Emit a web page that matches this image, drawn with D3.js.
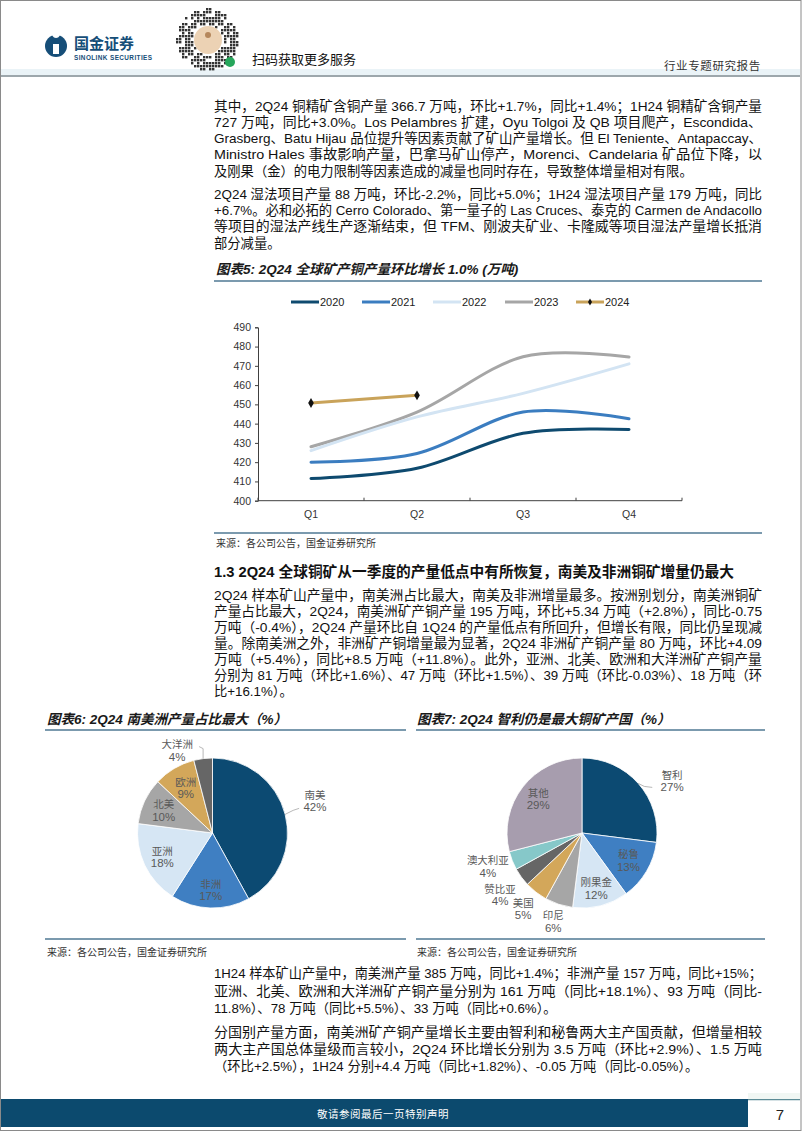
<!DOCTYPE html>
<html><head><meta charset="utf-8">
<script src="https://cdn.jsdelivr.net/npm/d3@7"></script>
<style>body{margin:0;background:#fff}svg{display:block}</style>
</head><body>
<script>
// ---------- DATA ----------
const quarters = ["Q1", "Q2", "Q3", "Q4"];
const years = ["2020", "2021", "2022", "2023", "2024"];
const v2020 = [411.5, 416.8, 435, 437];
const v2021 = [420, 424.5, 446, 442.5];
const v2022 = [426, 443.5, 455.7, 471];
const v2023 = [428, 446, 474.7, 474.6];
const v2024 = [450.7, 454.7];
const yTicks = [400, 410, 420, 430, 440, 450, 460, 470, 480, 490];

const continents = ["南美", "非洲", "亚洲", "北美", "欧洲", "大洋洲"];
const continentShare = [42, 17, 18, 10, 9, 4];
const countries = ["智利", "秘鲁", "刚果金", "印尼", "美国", "赞比亚", "澳大利亚", "其他"];
const countryShare = [27, 13, 12, 6, 5, 4, 4, 29];

const para1 = [
  "其中，2Q24 铜精矿含铜产量 366.7 万吨，环比+1.7%，同比+1.4%；1H24 铜精矿含铜产量",
  "727 万吨，同比+3.0%。Los Pelambres 扩建，Oyu Tolgoi 及 QB 项目爬产，Escondida、",
  "Grasberg、Batu Hijau 品位提升等因素贡献了矿山产量增长。但 El Teniente、Antapaccay、",
  "Ministro Hales 事故影响产量，巴拿马矿山停产，Morenci、Candelaria 矿品位下降，以",
  "及刚果（金）的电力限制等因素造成的减量也同时存在，导致整体增量相对有限。"];
const para2 = [
  "2Q24 湿法项目产量 88 万吨，环比-2.2%，同比+5.0%；1H24 湿法项目产量 179 万吨，同比",
  "+6.7%。必和必拓的 Cerro Colorado、第一量子的 Las Cruces、泰克的 Carmen de Andacollo",
  "等项目的湿法产线生产逐渐结束，但 TFM、刚波夫矿业、卡隆威等项目湿法产量增长抵消",
  "部分减量。"];
const heading = "1.3 2Q24 全球铜矿从一季度的产量低点中有所恢复，南美及非洲铜矿增量仍最大";
const para3 = [
  "2Q24 样本矿山产量中，南美洲占比最大，南美及非洲增量最多。按洲别划分，南美洲铜矿",
  "产量占比最大，2Q24，南美洲矿产铜产量 195 万吨，环比+5.34 万吨（+2.8%），同比-0.75",
  "万吨（-0.4%），2Q24 产量环比自 1Q24 的产量低点有所回升，但增长有限，同比仍呈现减",
  "量。除南美洲之外，非洲矿产铜增量最为显著，2Q24 非洲矿产铜产量 80 万吨，环比+4.09",
  "万吨（+5.4%），同比+8.5 万吨（+11.8%）。此外，亚洲、北美、欧洲和大洋洲矿产铜产量",
  "分别为 81 万吨（环比+1.6%）、47 万吨（环比+1.5%）、39 万吨（环比-0.03%）、18 万吨（环",
  "比+16.1%）。"];
const para4 = [
  "1H24 样本矿山产量中，南美洲产量 385 万吨，同比+1.4%；非洲产量 157 万吨，同比+15%；",
  "亚洲、北美、欧洲和大洋洲矿产铜产量分别为 161 万吨（同比+18.1%）、93 万吨（同比-",
  "11.8%）、78 万吨（同比+5.5%）、33 万吨（同比+0.6%）。"];
const para5 = [
  "分国别产量方面，南美洲矿产铜产量增长主要由智利和秘鲁两大主产国贡献，但增量相较",
  "两大主产国总体量级而言较小，2Q24 环比增长分别为 3.5 万吨（环比+2.9%）、1.5 万吨",
  "（环比+2.5%），1H24 分别+4.4 万吨（同比+1.82%）、-0.05 万吨（同比-0.05%）。"];

// ---------- SETUP ----------
const W = 802, H = 1133;
const CJK = "'Liberation Sans','Noto Sans CJK SC',sans-serif";
const LAT = "'Liberation Sans',Arial,sans-serif";
const svg = d3.select("body").append("svg").attr("width", W).attr("height", H);
svg.append("rect").attr("x", 0).attr("y", 0).attr("width", W).attr("height", H).attr("fill", "#fff");

// page frame
svg.append("rect").attr("x", 0.5).attr("y", 0.5).attr("width", W - 1.5).attr("height", H - 3)
  .attr("fill", "none").attr("stroke", "#8a8a8a").attr("stroke-width", 1);

// ---------- HEADER ----------
const hdr = svg.append("g");
hdr.append("rect").attr("x", 1).attr("y", 69).attr("width", W - 3).attr("height", 6).attr("fill", "#eaf3f7");
hdr.append("line").attr("x1", 1).attr("x2", W - 2).attr("y1", 76).attr("y2", 76).attr("stroke", "#7d8a90").attr("stroke-width", 1.5);
// logo
hdr.append("circle").attr("cx", 56).attr("cy", 46).attr("r", 11).attr("fill", "#164e78");
hdr.append("path").attr("d", "M56 38 a4 4 0 1 1 0.1 0 Z M53 44 h6 v10 h-6 Z").attr("fill", "#fff");
hdr.append("text").attr("x", 74).attr("y", 49).attr("font-family", CJK).attr("font-weight", 700)
  .attr("font-size", 15).attr("fill", "#164e78").text("国金证券");
hdr.append("text").attr("x", 74).attr("y", 59.5).attr("font-family", LAT).attr("font-weight", 700)
  .attr("font-size", 6.4).attr("fill", "#164e78").attr("textLength", 78).text("SINOLINK SECURITIES");
// QR-like decoration
const qr = hdr.append("g");
const qcx = 208, qcy = 40;
for (let i = 0; i < 22; i++) for (let j = 0; j < 22; j++) {
  const x = 176 + i * 3, y = 8 + j * 3;
  const d = Math.hypot(x + 1.5 - qcx, y + 1.5 - qcy);
  if (d > 31 || d < 15) continue;
  if (((i * 7 + j * 13 + (i * j) % 5) % 3) === 0) continue;
  qr.append("rect").attr("x", x).attr("y", y).attr("width", 2.4).attr("height", 2.4).attr("fill", "#333");
}
qr.append("circle").attr("cx", qcx).attr("cy", qcy).attr("r", 14).attr("fill", "#ecd2b4");
qr.append("circle").attr("cx", qcx).attr("cy", qcy - 5).attr("r", 3).attr("fill", "#b5875c");
qr.append("circle").attr("cx", 230).attr("cy", 62).attr("r", 5).attr("fill", "#26a65b");
hdr.append("text").attr("x", 252).attr("y", 64).attr("font-family", CJK).attr("font-size", 13)
  .attr("fill", "#111").text("扫码获取更多服务");
hdr.append("text").attr("x", 664).attr("y", 70).attr("font-family", CJK).attr("font-size", 11.5)
  .attr("fill", "#333").attr("letter-spacing", 0.6).text("行业专题研究报告");

// ---------- PARAGRAPHS ----------
const TX0 = 214, TX1 = 762, FS = 13.3;
function para(lines, y0, lh) {
  const g = svg.append("g").attr("font-family", CJK).attr("font-size", FS).attr("fill", "#111");
  lines.forEach((ln, i) => {
    const t = g.append("text").attr("x", TX0).attr("y", y0 + i * lh).text(ln);
    if (i < lines.length - 1) t.attr("textLength", TX1 - TX0).attr("lengthAdjust", "spacingAndGlyphs");
  });
}
para(para1, 110.5, 16.3);
para(para2, 198.5, 16.4);
svg.append("text").attr("x", TX0).attr("y", 576.5).attr("font-family", CJK).attr("font-weight", 700)
  .attr("font-size", 14.5).attr("fill", "#111").attr("textLength", 520).attr("lengthAdjust", "spacingAndGlyphs").text(heading);
para(para3, 600, 16);
para(para4, 978, 17.5);
para(para5, 1037, 17.2);

// ---------- CHART TITLES / RULES ----------
const RULE = "#4f7893";
function title(x, y, txt) {
  svg.append("text").attr("x", x).attr("y", y).attr("font-family", CJK).attr("font-weight", 700)
    .attr("font-style", "italic").attr("font-size", 13.5).attr("fill", "#1a1a1a").text(txt);
}
function rule(x1, x2, y) {
  svg.append("line").attr("x1", x1).attr("x2", x2).attr("y1", y).attr("y2", y).attr("stroke", RULE).attr("stroke-width", 1.3);
}
function source(x, y) {
  svg.append("text").attr("x", x).attr("y", y).attr("font-family", CJK).attr("font-size", 10)
    .attr("fill", "#333").text("来源：各公司公告，国金证券研究所");
}
title(216, 274, "图表5: 2Q24 全球矿产铜产量环比增长 1.0% (万吨)");
rule(214, 762, 281);
rule(214, 762, 533);
source(216, 547);

title(47, 724, "图表6: 2Q24 南美洲产量占比最大（%）");
rule(45, 406, 730);
rule(45, 406, 939);
source(47, 956);

title(417, 724, "图表7: 2Q24 智利仍是最大铜矿产国（%）");
rule(416, 765, 730);
rule(416, 765, 939);
source(417, 956);

// ---------- LINE CHART ----------
const series = [v2020, v2021, v2022, v2023, v2024];
const lineColors = ["#0e4a6f", "#3b7dc0", "#d3e4f3", "#a6a6a6", "#c9a35a"];
const x = d3.scaleBand().domain(quarters).range([258, 682]);
const y = d3.scaleLinear().domain([400, 490]).range([500.7, 327.3]);
const cx = q => x(q) + x.bandwidth() / 2;
const lc = svg.append("g");

// axes
const yAx = lc.append("g").attr("transform", "translate(258,0)")
  .call(d3.axisLeft(y).tickValues(yTicks).tickSize(3).tickPadding(4).tickFormat(d3.format("d")));
yAx.select(".domain").attr("stroke", "#404040");
yAx.selectAll(".tick line").attr("stroke", "#404040");
yAx.selectAll("text").attr("font-family", LAT).attr("font-size", 10.5).attr("fill", "#333");

lc.append("line").attr("x1", 258).attr("x2", 682).attr("y1", y(400)).attr("y2", y(400)).attr("stroke", "#404040");
const bounds = quarters.map(q => x(q)).concat([x(quarters[3]) + x.step()]);
bounds.forEach(b => lc.append("line").attr("x1", b).attr("x2", b).attr("y1", y(400)).attr("y2", y(400) - 3).attr("stroke", "#404040"));
quarters.forEach(q => lc.append("text").attr("x", cx(q)).attr("y", y(400) + 17).attr("text-anchor", "middle")
  .attr("font-family", LAT).attr("font-size", 10.5).attr("fill", "#333").text(q));

const smooth = d3.line().x((d, i) => cx(quarters[i])).y(d => y(d)).curve(d3.curveCardinal.tension(0));
const straight = d3.line().x((d, i) => cx(quarters[i])).y(d => y(d));
[3, 2, 1, 0].forEach(k => {
  lc.append("path").attr("d", smooth(series[k])).attr("fill", "none").attr("stroke", lineColors[k])
    .attr("stroke-width", 3).attr("stroke-linecap", "round");
});
lc.append("path").attr("d", straight(v2024)).attr("fill", "none").attr("stroke", lineColors[4]).attr("stroke-width", 3);
v2024.forEach((v, i) => lc.append("path").attr("d", d3.symbol(d3.symbolDiamond, 28)())
  .attr("transform", `translate(${cx(quarters[i])},${y(v)})`).attr("fill", "#111"));

// legend
const legX = [291, 362, 433, 505, 576];
years.forEach((yr, k) => {
  const g = lc.append("g").attr("transform", `translate(${legX[k]},302)`);
  g.append("line").attr("x1", 0).attr("x2", 28).attr("stroke", lineColors[k]).attr("stroke-width", 3);
  if (k === 4) g.append("path").attr("d", d3.symbol(d3.symbolDiamond, 14)()).attr("transform", "translate(14,0)").attr("fill", "#111");
  g.append("text").attr("x", 29).attr("y", 4).attr("font-family", LAT).attr("font-size", 11).attr("fill", "#222").text(yr);
});

// ---------- PIES ----------
function drawPie(cxp, cyp, r, labels, vals, colors, place) {
  const g = svg.append("g").attr("transform", `translate(${cxp},${cyp})`);
  const arcs = d3.pie().sort(null).value(d => d)(vals);
  const arc = d3.arc().innerRadius(0).outerRadius(r);
  g.selectAll("path.s").data(arcs).enter().append("path").attr("d", arc)
    .attr("fill", (d, i) => colors[i]).attr("stroke", "#fff").attr("stroke-width", 0.8);
  arcs.forEach((a, i) => {
    const p = place[i];
    const mid = (a.startAngle + a.endAngle) / 2;
    const dirx = Math.sin(mid), diry = -Math.cos(mid);
    const lx = dirx * r * p.f + (p.dx || 0), ly = diry * r * p.f + (p.dy || 0);
    if (p.leader) {
      const ex = dirx * r, ey = diry * r;
      g.append("path").attr("d", `M${ex},${ey} L${ex + p.leader[0]},${ey + p.leader[1]} L${ex + p.leader[2]},${ey + p.leader[3]}`)
        .attr("fill", "none").attr("stroke", "#a6a6a6").attr("stroke-width", 0.8);
    }
    g.append("text").attr("x", lx).attr("y", ly - 2).attr("text-anchor", "middle").attr("font-family", CJK)
      .attr("font-size", 10.5).attr("fill", "#595959").text(labels[i]);
    g.append("text").attr("x", lx).attr("y", ly + 10.5).attr("text-anchor", "middle").attr("font-family", LAT)
      .attr("font-size", 11.5).attr("fill", "#595959").text(vals[i] + "%");
  });
}
const pieColors1 = ["#0c4a72", "#3f7fc2", "#d6e6f4", "#a6a6a6", "#d3a75a", "#666666"];
drawPie(212.5, 833, 75, continents, continentShare, pieColors1, [
  { f: 1.3, dx: 8, dy: -8, leader: [8, -4, 14, -6] },
  { f: 0.76 }, { f: 0.74 }, { f: 0.72 }, { f: 0.7 },
  { f: 1.1, dx: -25, dy: -1, leader: [0, -10, -4, -12] }]);
const pieColors2 = ["#0c4a72", "#3f7fc2", "#d6e6f4", "#a6a6a6", "#d3a75a", "#666666", "#86c8c9", "#a79dae"];
drawPie(582, 833, 75, countries, countryShare, pieColors2, [
  { f: 1.3, dx: 17, dy: 12, leader: [6, 3, 14, 4] },
  { f: 0.72 }, { f: 0.76 }, { f: 1.24 }, { f: 1.28 }, { f: 1.35, dy: 2 }, { f: 1.35, dy: -4 }, { f: 0.74 }]);

// ---------- FOOTER ----------
svg.append("rect").attr("x", 1).attr("y", 1099).attr("width", 747).attr("height", 28).attr("fill", "#0c4a6e");
svg.append("line").attr("x1", 748).attr("x2", W - 2).attr("y1", 1099.5).attr("y2", 1099.5).attr("stroke", "#5d8c97").attr("stroke-width", 1.5);
svg.append("rect").attr("x", 748).attr("y", 1093).attr("width", W - 750).attr("height", 6).attr("fill", "#f1f7f4");
svg.append("text").attr("x", 317).attr("y", 1118).attr("font-family", CJK).attr("font-size", 10.5)
  .attr("fill", "#fff").attr("letter-spacing", 0.5).text("敬请参阅最后一页特别声明");
svg.append("text").attr("x", 780).attr("y", 1120).attr("text-anchor", "middle").attr("font-family", LAT)
  .attr("font-size", 15).attr("fill", "#222").text("7");
</script>
</body></html>
